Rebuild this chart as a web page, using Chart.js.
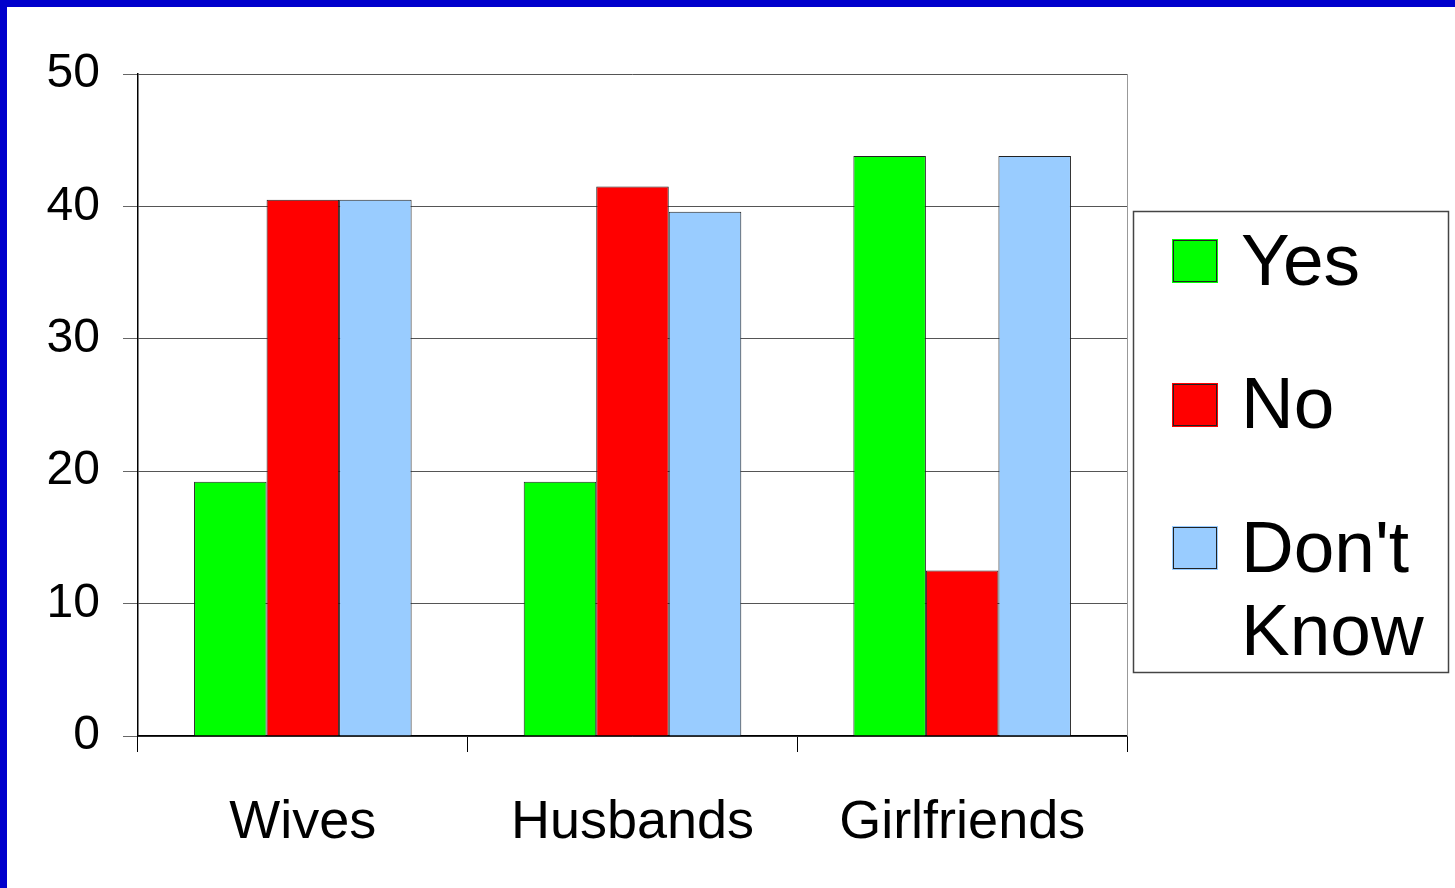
<!DOCTYPE html>
<html>
<head>
<meta charset="utf-8">
<script src="https://cdn.jsdelivr.net/npm/chart.js@4"></script>
<style>
  html, body { margin: 0; padding: 0; background: #fff; overflow: hidden; }
  #frame {
    position: absolute; left: 0; top: 0;
    width: 1448px; height: 881px;
    border-left: 7px solid #0000cc;
    border-top: 7px solid #0000cc;
    background: #fff;
  }
  canvas { display: block; }
</style>
</head>
<body>
<div id="frame"><canvas id="chart" width="1448" height="881"></canvas></div>
<script>
// Data
var categories = ["Wives", "Husbands", "Girlfriends"];
var yesValues = [19.2, 19.2, 43.8];
var noValues = [40.5, 41.5, 12.5];
var dontKnowValues = [40.5, 39.6, 43.8];
var seriesLabels = ["Yes", "No", "Don't Know"];
var yTicks = [0, 10, 20, 30, 40, 50];

var FONT = "'Liberation Sans', Arial, sans-serif";

// right edge of the plot plus the boxed legend on the right
var boxLegend = {
  id: "boxLegend",
  afterDraw: function (chart) {
    var ctx = chart.ctx;
    var area = chart.chartArea;

    ctx.save();
    ctx.strokeStyle = "#999";
    ctx.lineWidth = 1;
    ctx.beginPath();
    ctx.moveTo(area.right + 0.5, area.top);
    ctx.lineTo(area.right + 0.5, area.bottom);
    ctx.stroke();

    // legend box
    var bx = 1126, by = 204, bw = 315, bh = 461;
    ctx.strokeStyle = "#444";
    ctx.lineWidth = 1.5;
    ctx.strokeRect(bx + 0.5, by + 0.5, bw, bh);

    var swatchTops = [232, 376, 519];
    var baselines = [278, 421, 565];
    ctx.font = "73px " + FONT;
    ctx.textBaseline = "alphabetic";
    ctx.textAlign = "left";
    chart.data.datasets.forEach(function (ds, i) {
      ctx.fillStyle = ds.backgroundColor;
      ctx.fillRect(1165, swatchTops[i], 46, 44);
      ctx.strokeStyle = "#222";
      ctx.lineWidth = 1;
      ctx.strokeRect(1166.5, swatchTops[i] + 1.5, 43, 41);
      ctx.fillStyle = "#000";
      var words = ds.label.split(" ");
      words.forEach(function (w, j) {
        ctx.fillText(w, 1234, baselines[i] + j * 83);
      });
    });
    ctx.restore();
  }
};

new Chart(document.getElementById("chart").getContext("2d"), {
  type: "bar",
  data: {
    labels: categories,
    datasets: [
      { label: seriesLabels[0], data: yesValues, backgroundColor: "#00ff00" },
      { label: seriesLabels[1], data: noValues, backgroundColor: "#ff0000" },
      { label: seriesLabels[2], data: dontKnowValues, backgroundColor: "#99ccff" }
    ]
  },
  options: {
    responsive: false,
    animation: false,
    layout: { padding: { top: 67, right: 328, left: 0, bottom: 0 } },
    datasets: {
      bar: {
        categoryPercentage: 0.66,
        barPercentage: 1,
        borderWidth: 1,
        borderColor: "#222"
      }
    },
    plugins: {
      legend: { display: false },
      tooltip: { enabled: false }
    },
    scales: {
      x: {
        grid: {
          offset: true,
          drawOnChartArea: false,
          drawTicks: true,
          tickLength: 16,
          tickColor: "#000",
          lineWidth: 1
        },
        border: { color: "#000", width: 1.5 },
        ticks: {
          color: "#000",
          font: { family: FONT, size: 54 },
          padding: 39,
          maxRotation: 0
        },
        afterFit: function (scale) { scale.height = 152; }
      },
      y: {
        min: 0,
        max: 50,
        afterBuildTicks: function (scale) {
          scale.ticks = yTicks.map(function (v) { return { value: v }; });
        },
        grid: {
          color: "#555",
          lineWidth: 1,
          tickLength: 15,
          tickColor: "#666"
        },
        border: { color: "#000", width: 1.5 },
        ticks: {
          color: "#000",
          font: { family: FONT, size: 48 },
          padding: 23
        },
        afterFit: function (scale) { scale.width = 131; }
      }
    }
  },
  plugins: [boxLegend]
});
</script>
</body>
</html>
